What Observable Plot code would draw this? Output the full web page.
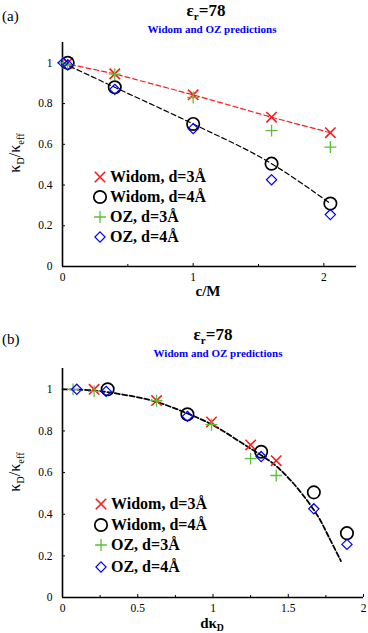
<!DOCTYPE html>
<html><head><meta charset="utf-8">
<script src="https://cdn.jsdelivr.net/npm/d3@7"></script>
<script src="https://cdn.jsdelivr.net/npm/@observablehq/plot@0.6"></script>
<style>
body{margin:0;background:#fff;}
#root{position:relative;width:368px;height:633px;overflow:hidden;font-family:"Liberation Serif","Times New Roman",Times,serif;color:#000;}
#root svg text{font-family:"Liberation Serif","Times New Roman",Times,serif !important;}
.abs{position:absolute;white-space:nowrap;line-height:1;}
sub{font-size:65%;vertical-align:-0.35em;line-height:0;}
.title{font-weight:bold;font-size:17px;transform:translateX(-50%);}
.subtitle{font-weight:bold;font-size:11px;color:#0000ff;transform:translateX(-50%);}
.panel{font-size:15px;}
.ylab{font-size:16px;transform:translate(-50%,-50%) rotate(-90deg);}
.xlab{font-size:15px;font-weight:bold;transform:translate(-50%,-50%);}
.leg{font-size:16px;font-weight:bold;display:flex;align-items:center;transform:translateY(-50%);}
.leg svg{margin-right:2px;overflow:visible;}
</style></head>
<body><div id="root"></div>
<script>
// ---------- data ----------
const seriesNames = ["Widom, d=3Å", "Widom, d=4Å", "OZ, d=3Å", "OZ, d=4Å"];
// concentrations c/M (panel a)
const cWidom = [0.04, 0.4, 1.0, 1.6, 2.05];
const cOZ = [0.005, 0.04, 0.4, 1.0, 1.6, 2.05];
// kappa_D / kappa_eff
const yWidom3 = [1.0, 0.946, 0.843, 0.733, 0.657];
const yWidom4 = [1.0, 0.88, 0.70, 0.505, 0.309];
const yOZ3 = [1.0, 0.99, 0.945, 0.83, 0.667, 0.586];
const yOZ4 = [1.0, 0.99, 0.87, 0.677, 0.426, 0.255];
// d*kappa_D (panel b)
const dkWidom3 = [0.21, 0.625, 0.99, 1.25, 1.42];
const dkWidom4 = [0.30, 0.83, 1.32, 1.67, 1.89];
const dkOZ3 = [0.07, 0.21, 0.625, 0.99, 1.25, 1.42];
const dkOZ4 = [0.095, 0.29, 0.83, 1.32, 1.67, 1.89];
// dashed fit lines, panel a
const cFit3 = [0, 0.4, 1.0, 1.6, 2.05];
const yFit3 = [1.0, 0.946, 0.843, 0.733, 0.657];
const cFit4 = [0, 0.4, 1.0, 1.6, 2.05];
const yFit4 = [1.0, 0.88, 0.70, 0.505, 0.309];
// theory curve, panel b
const dkTheory = [0, 0.2, 0.4, 0.6, 0.8, 1.0, 1.2, 1.4, 1.5, 1.6, 1.7, 1.77, 1.85];
const yTheory = [1.0, 0.995, 0.975, 0.945, 0.893, 0.828, 0.738, 0.643, 0.575, 0.49, 0.387, 0.29, 0.175];
const yTicks = [0, 0.2, 0.4, 0.6, 0.8, 1];
const xTicksA = [0, 1, 2];
const xMinorA = [0.5, 1.5];
const xTicksB = [0, 0.5, 1, 1.5, 2];
const xMinorB = [0.25, 0.75, 1.25, 1.75];

// ---------- styles ----------
const RED = "#ff1a1a", BLACK = "#000", GREEN = "#5cbf3a", BLUE = "#0000ff";
const symStyle = [
  {symbol: "times", stroke: RED, r: 4.8, strokeWidth: 1.6},
  {symbol: "circle", stroke: BLACK, r: 6.2, strokeWidth: 1.7},
  {symbol: "plus", stroke: GREEN, r: 3.9, strokeWidth: 1.3},
  {symbol: "diamond2", stroke: BLUE, r: 4.6, strokeWidth: 1.2}
];
const zip = (xs, ys) => xs.map((x, i) => ({x, y: ys[i]}));
const font = '"Liberation Serif","Times New Roman",Times,serif';

function dots(data, k) {
  const s = symStyle[k];
  return Plot.dot(data, {x: "x", y: "y", symbol: () => s.symbol, r: s.r, stroke: s.stroke, strokeWidth: s.strokeWidth, fill: "none"});
}

function makePlot({height, marginTop, marginBottom, marginRight, xDomain, xTicks, xMinor, lines, series}) {
  return Plot.plot({
    width: 368, height, marginLeft: 62, marginRight, marginTop, marginBottom,
    style: {fontFamily: font, fontSize: "11.5px", background: "transparent", color: "#000", overflow: "visible"},
    symbol: {type: "identity"},
    x: {domain: xDomain, label: null},
    y: {domain: [0, 1.1], label: null},
    marks: [
      Plot.axisY({ticks: yTicks, tickSize: -3, tickPadding: 13, tickFormat: d => String(d), label: null}),
      Plot.axisX({ticks: xTicks, tickSize: -3, tickPadding: 9, tickFormat: d => String(d), label: null}),
      Plot.axisX({ticks: xMinor, tickSize: -2, tickFormat: () => "", label: null}),
      Plot.ruleX([0], {strokeWidth: 1.6}),
      Plot.ruleY([0], {strokeWidth: 1.6}),
      ...lines,
      ...series.map((d, k) => dots(d, k))
    ]
  });
}

const root = document.getElementById("root");
function addDiv(cls, left, top, html) {
  const d = document.createElement("div");
  d.className = "abs " + cls;
  d.style.left = left + "px"; d.style.top = top + "px";
  d.innerHTML = html;
  root.appendChild(d);
  return d;
}
const typeMap = {times: d3.symbolTimes, circle: d3.symbolCircle, plus: d3.symbolPlus, diamond2: d3.symbolDiamond2};
function addLegend(x, ys) {
  seriesNames.forEach((name, k) => {
    const s = symStyle[k];
    const size = Math.PI * s.r * s.r;
    const path = d3.symbol(typeMap[s.symbol], size)();
    addDiv("leg", x - 8, ys[k], `<svg width="16" height="16"><path transform="translate(8,8)" d="${path}" fill="none" stroke="${s.stroke}" stroke-width="${s.strokeWidth}"/></svg><span>${name}</span>`);
  });
}

// ---------- panel (a) ----------
addDiv("panel", 2, 9, "(a)");
addDiv("title", 206, 2, "ε<sub>r</sub>=78");
addDiv("subtitle", 212, 24, "Widom and OZ predictions");
const pa = makePlot({
  height: 264, marginTop: 6, marginBottom: 34, marginRight: 12,
  xDomain: [0, 2.25], xTicks: xTicksA, xMinor: xMinorA,
  lines: [
    Plot.line(zip(cFit3, yFit3), {x: "x", y: "y", stroke: RED, strokeWidth: 1.2, strokeDasharray: "5,3"}),
    Plot.line(zip(cFit4, yFit4), {x: "x", y: "y", stroke: BLACK, strokeWidth: 1.2, strokeDasharray: "5,3", curve: "monotone-x"})
  ],
  series: [zip(cWidom, yWidom3), zip(cWidom, yWidom4), zip(cOZ, yOZ3), zip(cOZ, yOZ4)]
});
pa.style.position = "absolute"; pa.style.left = "0px"; pa.style.top = "36px";
root.appendChild(pa);
addDiv("ylab", 15, 153, "κ<sub>D</sub>/κ<sub>eff</sub>");
addDiv("xlab", 208, 291, "c/M");
addLegend(100, [176.7, 196.7, 217.3, 237.3]);

// ---------- panel (b) ----------
addDiv("panel", 2, 332, "(b)");
addDiv("title", 213, 326, "ε<sub>r</sub>=78");
addDiv("subtitle", 218, 348, "Widom and OZ predictions");
const pb = makePlot({
  height: 271, marginTop: 6, marginBottom: 36, marginRight: 5,
  xDomain: [0, 2], xTicks: xTicksB, xMinor: xMinorB,
  lines: [
    Plot.line(zip(dkTheory, yTheory), {x: "x", y: "y", stroke: BLACK, strokeWidth: 1.8, strokeDasharray: "5,2.5", curve: "catmull-rom"})
  ],
  series: [zip(dkWidom3, yWidom3), zip(dkWidom4, yWidom4), zip(dkOZ3, yOZ3), zip(dkOZ4, yOZ4)]
});
pb.style.position = "absolute"; pb.style.left = "0px"; pb.style.top = "362px";
root.appendChild(pb);
addDiv("ylab", 15, 472, "κ<sub>D</sub>/κ<sub>eff</sub>");
addDiv("xlab", 212, 623, "dκ<sub>D</sub>");
addLegend(101, [504.3, 525, 545.3, 566.7]);
</script></body></html>
